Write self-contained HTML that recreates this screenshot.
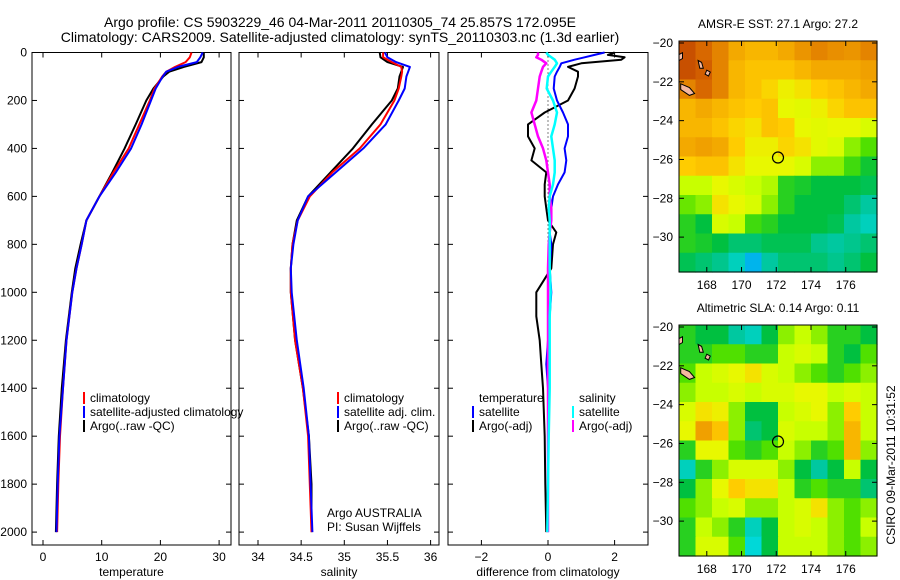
<!DOCTYPE html>
<html><head><meta charset="utf-8"><style>
html,body{margin:0;padding:0;background:#fff;}
svg{display:block;font-family:"Liberation Sans",sans-serif;}
</style></head><body>
<svg id="fig" width="900" height="580" viewBox="0 0 900 580"></svg>
<script>
// ---- profile data ----
const pLevels = [0,20,40,60,80,100,150,200,300,400,500,600,700,800,900,1000,1200,1400,1600,1800,2000];
const tempClim = [25.3,25.0,24.3,22.5,21.0,20.3,19.0,18.2,16.4,14.6,12.0,9.6,7.4,6.6,5.7,5.0,4.0,3.4,2.9,2.6,2.4];
const tempSat  = [27.2,26.8,26.2,23.0,21.0,20.4,19.2,18.4,16.8,15.0,12.4,9.6,7.4,6.6,5.7,5.0,4.0,3.4,2.8,2.5,2.3];
const tempArgo = [27.4,27.4,27.0,24.0,21.5,20.5,18.8,17.6,15.8,13.9,11.8,9.6,7.4,6.4,5.5,4.9,3.9,3.2,2.7,2.4,2.2];
const salClim = [35.45,35.45,35.55,35.66,35.67,35.66,35.63,35.58,35.42,35.18,34.86,34.6,34.46,34.4,34.38,34.38,34.43,34.52,34.58,34.6,34.62];
const salSat  = [35.47,35.5,35.6,35.76,35.74,35.72,35.7,35.63,35.48,35.22,34.9,34.58,34.46,34.41,34.38,34.39,34.45,34.53,34.59,34.61,34.63];
const salArgo = [35.41,35.42,35.5,35.68,35.66,35.64,35.62,35.55,35.32,35.1,34.84,34.58,34.45,34.4,34.38,34.38,34.43,34.52,34.59,34.62,34.62];
const dLevels = [0,10,20,30,45,60,80,100,150,200,250,300,350,400,450,500,550,600,650,700,750,800,900,1000,1100,1200,1300,1400,1600,1800,2000];
const tDiffArgo = [2.0,1.8,2.3,2.2,1.0,0.6,0.9,0.9,0.8,0.6,-0.1,-0.6,-0.6,-0.4,-0.5,-0.05,-0.1,-0.1,-0.05,0.0,0.25,0.15,0.1,-0.35,-0.35,-0.25,-0.2,-0.15,-0.1,-0.08,-0.05];
const tDiffSat = [1.7,1.4,1.1,0.8,0.4,0.35,0.27,0.2,0.17,0.27,0.45,0.6,0.6,0.5,0.55,0.5,0.3,0.15,0.1,0.08,0.05,0.1,0.05,0.1,0.05,0.0,-0.05,0.0,0.0,0.0,0.0];
const sDiffSat = [-0.05,0.0,0.1,0.2,0.27,0.2,0.1,0.0,-0.04,0.15,0.27,0.2,0.1,0.15,0.2,0.2,0.15,0.05,0.02,0.05,0.05,0.05,0.05,0.08,0.05,0.05,0.05,0.05,0.02,0.0,-0.02];
const sDiffArgo = [-0.3,-0.3,-0.35,-0.2,-0.05,-0.15,-0.2,-0.25,-0.3,-0.35,-0.5,-0.4,-0.3,-0.15,-0.05,0.0,0.05,0.05,0.1,0.1,0.05,0.02,0.0,0.0,0.0,0.0,0.0,0.0,0.0,0.0,0.0];
const depthTicks = [0,200,400,600,800,1000,1200,1400,1600,1800,2000];
const tempTicks = [0,10,20,30];
const salTicks = ["34","34.5","35","35.5","36"];
const diffTicks = [-2,0,2];
// ---- map data (rows from -20 southward, cols 166.4E eastward; 0..1 colour index) ----
const sstGrid = [
[0.95,0.9,0.85,0.78,0.75,0.75,0.78,0.82,0.85,0.83,0.82,0.85],
[0.95,0.92,0.85,0.75,0.72,0.72,0.72,0.75,0.78,0.78,0.78,0.8],
[0.85,0.9,0.85,0.75,0.72,0.68,0.62,0.65,0.7,0.72,0.75,0.78],
[0.75,0.78,0.75,0.72,0.7,0.72,0.6,0.58,0.62,0.68,0.72,0.72],
[0.75,0.75,0.72,0.68,0.65,0.72,0.7,0.6,0.58,0.6,0.6,0.55],
[0.78,0.8,0.78,0.7,0.62,0.62,0.68,0.65,0.58,0.55,0.45,0.4],
[0.7,0.72,0.72,0.65,0.6,0.6,0.6,0.55,0.45,0.45,0.38,0.32],
[0.5,0.5,0.6,0.55,0.5,0.48,0.35,0.33,0.3,0.3,0.3,0.28],
[0.42,0.45,0.65,0.6,0.55,0.45,0.35,0.3,0.3,0.3,0.25,0.2],
[0.35,0.3,0.55,0.5,0.38,0.35,0.3,0.3,0.3,0.28,0.2,0.15],
[0.35,0.33,0.3,0.25,0.25,0.28,0.28,0.28,0.22,0.2,0.22,0.25],
[0.28,0.25,0.22,0.15,0.05,0.2,0.25,0.25,0.25,0.22,0.25,0.3]];
const slaGrid = [
[0.35,0.3,0.3,0.2,0.15,0.3,0.45,0.5,0.45,0.35,0.35,0.3],
[0.35,0.35,0.4,0.4,0.35,0.35,0.5,0.55,0.5,0.35,0.3,0.4],
[0.4,0.5,0.55,0.6,0.65,0.55,0.5,0.45,0.4,0.35,0.4,0.45],
[0.45,0.5,0.5,0.55,0.5,0.55,0.55,0.6,0.6,0.5,0.55,0.5],
[0.55,0.65,0.62,0.45,0.3,0.3,0.5,0.55,0.6,0.45,0.7,0.5],
[0.6,0.8,0.72,0.45,0.25,0.3,0.55,0.5,0.5,0.45,0.75,0.5],
[0.35,0.6,0.6,0.4,0.35,0.4,0.5,0.45,0.35,0.4,0.75,0.45],
[0.15,0.35,0.45,0.55,0.55,0.55,0.45,0.3,0.2,0.3,0.5,0.3],
[0.3,0.45,0.6,0.7,0.65,0.65,0.5,0.35,0.4,0.35,0.35,0.25],
[0.4,0.45,0.5,0.55,0.45,0.45,0.5,0.55,0.65,0.45,0.4,0.45],
[0.35,0.5,0.45,0.35,0.15,0.3,0.5,0.55,0.5,0.45,0.4,0.5],
[0.35,0.55,0.55,0.4,0.1,0.3,0.5,0.5,0.5,0.45,0.4,0.45]];
const lonTicks = [168,170,172,174,176];
const latTicks = [-20,-22,-24,-26,-28,-30];
const argoLon = 172.1, argoLat = -25.9;

const NS="http://www.w3.org/2000/svg";
const svg=document.getElementById('fig');
function el(tag,attrs,parent){const e=document.createElementNS(NS,tag);for(const k in attrs)e.setAttribute(k,attrs[k]);(parent||svg).appendChild(e);return e;}
function txt(s,x,y,anchor,parent,size){const t=el('text',{x:x,y:y,'text-anchor':anchor||'middle','font-size':size||12,fill:'#000'},parent);t.textContent=s;return t;}

// profile axes
const yTop=52.5, yScale=0.2398, yBot=545;
const py=p=>yTop+p*yScale;
const panels=[
 {name:'temperature-panel',x0:32,x1:231,f:v=>43+v*5.87,ticks:tempTicks,label:'temperature'},
 {name:'salinity-panel',x0:239,x1:439,f:v=>258+(v-34)*86.3,ticks:salTicks,label:'salinity'},
 {name:'difference-panel',x0:448,x1:648,f:v=>548+v*33.3,ticks:diffTicks,label:'difference from climatology'}];
panels.forEach((P,i)=>{
  const g=el('g',{});  
  P.g=g;
  el('rect',{x:P.x0,y:yTop,width:P.x1-P.x0,height:yBot-yTop,fill:'#fff',stroke:'#000','stroke-width':1},g);
  P.ticks.forEach(t=>{const x=P.f(+t);
    el('line',{x1:x,x2:x,y1:yBot,y2:yBot-5,stroke:'#000'},g);
    el('line',{x1:x,x2:x,y1:yTop,y2:yTop+5,stroke:'#000'},g);
    const l=txt(String(t).replace('-','\u2212'),x,yBot+16,'middle',g);
    });
  depthTicks.forEach(d=>{const y=py(d);
    el('line',{x1:P.x0,x2:P.x0+5,y1:y,y2:y,stroke:'#000'},g);
    el('line',{x1:P.x1,x2:P.x1-5,y1:y,y2:y,stroke:'#000'},g);
    if(i==0){const l=txt(String(d),27,y+4,'end',g);}});
  const xl=txt(P.label,(P.x0+P.x1)/2,576,'middle',g);
  
});
function line(P,vals,levels,color,name,w){
  const pts=vals.map((v,k)=>P.f(v).toFixed(1)+','+py(levels[k]).toFixed(1)).join(' ');
  const l=el('polyline',{points:pts,fill:'none',stroke:color,'stroke-width':w||2,'stroke-linejoin':'round'},P.g);
  
}
line(panels[0],tempArgo,pLevels,'#000','argo-temperature-line');
line(panels[0],tempClim,pLevels,'#f00','climatology-temperature-line');
line(panels[0],tempSat,pLevels,'#00f','satellite-temperature-line');
line(panels[1],salArgo,pLevels,'#000','argo-salinity-line');
line(panels[1],salClim,pLevels,'#f00','climatology-salinity-line');
line(panels[1],salSat,pLevels,'#00f','satellite-salinity-line');
const zl=el('line',{x1:548,x2:548,y1:py(0),y2:py(2000),stroke:'#000','stroke-dasharray':'1,3'},panels[2].g);

line(panels[2],tDiffArgo,dLevels,'#000','argo-temperature-diff-line');
line(panels[2],tDiffSat,dLevels,'#00f','satellite-temperature-diff-line');
line(panels[2],sDiffArgo,dLevels,'#f0f','argo-salinity-diff-line',2.5);
line(panels[2],sDiffSat,dLevels,'#0ff','satellite-salinity-diff-line',2.5);

function legend(name,x,y,items){
  const g=el('g',{});  
  items.forEach((it,k)=>{const yy=y+k*14;
    if(it[1])el('rect',{x:x,y:yy-10,width:2,height:12,fill:it[1]},g);
    const t=txt(it[0],x+7,yy,'start',g);
    });
}
legend('temperature-legend',83,402,[['climatology','#f00'],['satellite-adjusted climatology','#00f'],['Argo(..raw -QC)','#000']]);
legend('salinity-legend',337,402,[['climatology','#f00'],['satellite adj. clim.','#00f'],['Argo(..raw -QC)','#000']]);
legend('diff-temp-legend',472,402,[['temperature',null],['satellite','#00f'],['Argo(-adj)','#000']]);
legend('diff-sal-legend',572,402,[['salinity',null],['satellite','#0ff'],['Argo(-adj)','#f0f']]);
const cr=el('g',{});
txt('Argo AUSTRALIA',327,517,'start',cr);txt('PI: Susan Wijffels',327,531,'start',cr);

// titles
const tg=el('g',{});
txt('Argo profile: CS 5903229_46 04-Mar-2011 20110305_74 25.857S 172.095E',340,27,'middle',tg,14);
txt('Climatology: CARS2009. Satellite-adjusted climatology: synTS_20110303.nc (1.3d earlier)',340,42,'middle',tg,14);

// colormap
const cstops=[[0,'#0090ff'],[0.1,'#00d8d8'],[0.2,'#00c8a0'],[0.3,'#00c040'],[0.4,'#50e000'],[0.5,'#c8ff00'],[0.6,'#e8f800'],[0.7,'#ffcc00'],[0.8,'#f0a000'],[0.9,'#d86800'],[1,'#b83800']];
function hex(h){return [1,3,5].map(i=>parseInt(h.substr(i,2),16));}
function cmap(v){for(let i=0;i<cstops.length-1;i++){const a=cstops[i],b=cstops[i+1];if(v<=b[0]){const t=(v-a[0])/(b[0]-a[0]);const ca=hex(a[1]),cb=hex(b[1]);return 'rgb('+ca.map((c,j)=>Math.round(c+(cb[j]-c)*t)).join(',')+')';}}return cstops[cstops.length-1][1];}

function drawMap(name,top,grid,title){
  const x0=679,x1=877,y0=top,h=231;
  const lx=lon=>x0+(lon-166.4)*(x1-x0)/11.4;
  const ly=lat=>y0+(-20-lat)*h/11.9+2;
  const g=el('g',{});
  const rows=grid.length,cols=grid[0].length;
  const cw=(x1-x0)/cols,ch=h/rows;
  grid.forEach((row,r)=>row.forEach((v,c)=>{
    const cell=el('rect',{x:(x0+c*cw).toFixed(2),y:(y0+r*ch).toFixed(2),width:(cw+0.6).toFixed(2),height:(ch+0.6).toFixed(2),fill:cmap(v)},g);
    
  }));
  // islands
  [[ [166.5,-22.1],[167.0,-22.3],[167.3,-22.6],[167.0,-22.7],[166.5,-22.4] ],
   [ [167.5,-20.9],[167.7,-21.0],[167.8,-21.3],[167.6,-21.3] ],
   [ [168.0,-21.4],[168.2,-21.5],[168.1,-21.7],[167.9,-21.6] ],
   [ [166.4,-20.6],[166.6,-20.5],[166.6,-20.8],[166.4,-20.9] ]].forEach(poly=>{
    el('polygon',{points:poly.map(p=>lx(p[0]).toFixed(1)+','+ly(p[1]).toFixed(1)).join(' '),fill:'#f5b8a0',stroke:'#000','stroke-width':1},g);});
  el('rect',{x:x0,y:y0,width:x1-x0,height:h,fill:'none',stroke:'#000'},g);
  lonTicks.forEach(l=>{const x=lx(l);el('line',{x1:x,x2:x,y1:y0+h,y2:y0+h-5,stroke:'#000'},g);el('line',{x1:x,x2:x,y1:y0,y2:y0+5,stroke:'#000'},g);txt(String(l),x,y0+h+17,'middle',g);});
  latTicks.forEach(l=>{const y=ly(l);el('line',{x1:x0,x2:x0+5,y1:y,y2:y,stroke:'#000'},g);el('line',{x1:x1,x2:x1-5,y1:y,y2:y,stroke:'#000'},g);txt(String(l).replace('-','\u2212'),673,y+4,'end',g);});
  const c=el('circle',{cx:lx(argoLon),cy:ly(argoLat),r:5.5,fill:'none',stroke:'#000','stroke-width':1.2},g);
  
  const t=txt(title,778,top-13,'middle',g);
}
drawMap('sst-map',41,sstGrid,'AMSR-E SST: 27.1 Argo: 27.2');
drawMap('sla-map',325,slaGrid,'Altimetric SLA: 0.14 Argo: 0.11');
const st=txt('CSIRO 09-Mar-2011 10:31:52',0,0,'middle');
st.setAttribute('transform','translate(895,465) rotate(-90)');

</script>
</body></html>
